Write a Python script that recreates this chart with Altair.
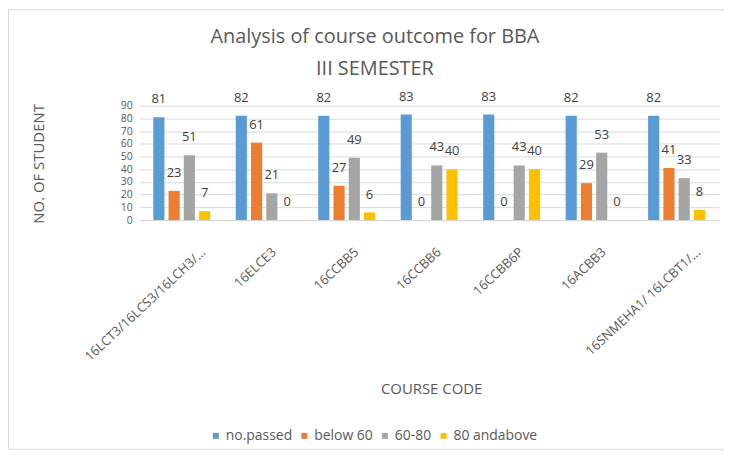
import altair as alt
import pandas as pd

courses = [
    "16LCT3/16LCS3/16LCH3/...",
    "16ELCE3",
    "16CCBB5",
    "16CCBB6",
    "16CCBB6P",
    "16ACBB3",
    "16SNMEHA1/ 16LCBT1/...",
]
series = ["no.passed", "below 60", "60-80", "80 andabove"]
no_passed = [81, 82, 82, 83, 83, 82, 82]
below_60 = [23, 61, 27, 0, 0, 29, 41]
r60_80 = [51, 21, 49, 43, 43, 53, 33]
above_80 = [7, 0, 6, 40, 40, 0, 8]
colors = ["#5B9BD5", "#ED7D31", "#A5A5A5", "#FFC000"]
y_ticks = [0, 10, 20, 30, 40, 50, 60, 70, 80, 90]

rows = []
for s, vals in zip(series, [no_passed, below_60, r60_80, above_80]):
    for c, v in zip(courses, vals):
        rows.append({"course": c, "series": s, "value": v})
df = pd.DataFrame(rows)

FONT = "Open Sans"
GREY = "#595959"

x_enc = alt.X(
    "course:N",
    sort=courses,
    scale=alt.Scale(paddingInner=0.31, paddingOuter=0.17),
    axis=alt.Axis(
        title="COURSE CODE",
        labelAngle=-43,
        labelAlign="right",
        labelBaseline="middle",
        labelPadding=30,
        labelOffset={"condition": {"test": "length(datum.value) > 12", "value": 22}, "value": 10},
        labelFont=FONT,
        labelFontSize=13,
        labelColor=GREY,
        labelLimit=300,
        labelOverlap=False,
        ticks=False,
        domainColor="#d9d9d9",
        grid=False,
        titleFont=FONT,
        titleFontSize=15,
        titleFontWeight="normal",
        titleColor=GREY,
        titleX=293.5,
        titleY=169,
        titleBaseline="middle",
        titleAlign="center",
    ),
)
xoff_enc = alt.XOffset(
    "series:N", sort=series, scale=alt.Scale(paddingInner=0.27, paddingOuter=0)
)
y_enc = alt.Y(
    "value:Q",
    scale=alt.Scale(domain=[0, 90], nice=False),
    axis=alt.Axis(
        title="NO. OF STUDENT",
        values=y_ticks,
        tickCount=10,
        labelOverlap=False,
        labelFont=FONT,
        labelFontSize=10.5,
        labelColor=GREY,
        labelPadding=7,
        ticks=False,
        domain=False,
        gridColor="#d9d9d9",
        titleFont=FONT,
        titleFontSize=15,
        titleFontWeight="normal",
        titleColor=GREY,
        titleAngle=270,
        titleX=-101,
        titleY=58,
        titleBaseline="middle",
        titleAlign="center",
    ),
)
color_enc = alt.Color(
    "series:N",
    sort=series,
    scale=alt.Scale(domain=series, range=colors),
    legend=alt.Legend(
        title=None,
        orient="none",
        direction="horizontal",
        legendX=70,
        legendY=325,
        symbolType="square",
        symbolSize=36,
        symbolStrokeWidth=0,
        labelFont=FONT,
        labelFontSize=14,
        labelColor=GREY,
        labelOffset=3,
        columnPadding=5,
        padding=0,
    ),
)

bars = alt.Chart(df).mark_bar().encode(
    x=x_enc, xOffset=xoff_enc, y=y_enc, color=color_enc
)
labels = alt.Chart(df).mark_text(
    dy=-18, baseline="middle", align="center", font=FONT, fontSize=13, color="#404040"
).encode(x=x_enc, xOffset=xoff_enc, y=y_enc, text="value:Q")

frame = alt.Chart(pd.DataFrame({"a": [0]})).mark_rect(
    fill=None, stroke="#d9d9d9", strokeWidth=1
).encode(
    x=alt.value(-131.5), x2=alt.value(620), y=alt.value(-96.5), y2=alt.value(345.5)
)

chart = (
    alt.layer(frame, bars, labels)
    .properties(
        width=583,
        height=115,
        padding={"left": 132, "top": 97, "right": 5, "bottom": 232},
        autosize=alt.AutoSizeParams(type="none"),
        background="white",
        title=alt.Title(
            text=["Analysis of course outcome for BBA", "III SEMESTER"],
            font=FONT,
            fontSize=20,
            fontWeight="normal",
            color=GREY,
            anchor="middle",
            baseline="bottom",
            lineHeight=32,
            dx=-54.5,
            dy=90,
            offset=0,
        ),
    )
    .configure_view(stroke=None)
)

chart.save("out.html", embed_options={"renderer": "svg", "actions": False})
